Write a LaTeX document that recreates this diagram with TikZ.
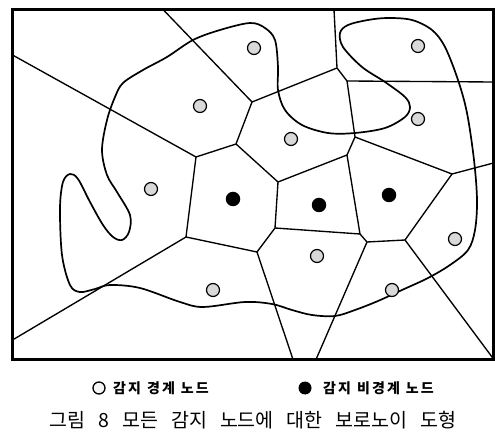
\documentclass[tikz,border=0pt]{standalone}
\usepackage{fontspec}
\newfontfamily\kr{Noto Sans CJK KR}
\newcommand\mylegendfont{\kr\bfseries\fontsize{14}{15}\selectfont\addfontfeature{LetterSpace=15}\spaceskip=6pt\relax}
\newcommand\mycaptionfont{\kr\fontsize{19.5}{22}\selectfont\spaceskip=13pt\relax}
\begin{document}
\begin{tikzpicture}[x=1pt,y=-1pt,
  frame/.style={line width=2.4pt},
  vor/.style={line width=1.35pt, line join=round},
  region/.style={line width=1.7pt},
  bnode/.style={circle, draw, line width=1.2pt, fill=gray!30, minimum size=13pt, inner sep=0pt},
  inode/.style={circle, fill=black, minimum size=14.5pt, inner sep=0pt},
  lbnode/.style={circle, draw, line width=1.3pt, fill=gray!8, minimum size=12pt, inner sep=0pt},
  linode/.style={circle, fill=black, minimum size=13pt, inner sep=0pt},
  legend/.style={anchor=west, inner sep=0pt, font=\mylegendfont},
  caption/.style={inner sep=0pt, font=\mycaptionfont}
]
\useasboundingbox (0,0) rectangle (495,435);
% frame
\draw[frame] (12.5,9.5) rectangle (493.5,359.5);
% Voronoi vertices
\coordinate (A) at (196,157);
\coordinate (B) at (252,102);
\coordinate (C) at (236,144);
\coordinate (D) at (186,237);
\coordinate (E) at (257,252);
\coordinate (F) at (278,182);
\coordinate (G) at (275,228);
\coordinate (H) at (367,242);
\coordinate (I) at (405,240);
\coordinate (J) at (360,234);
\coordinate (K) at (347,155);
\coordinate (L) at (452,174);
\coordinate (M) at (355,137);
\coordinate (N) at (347,81);
\coordinate (O) at (337,68);
% frame end points
\coordinate (fL1) at (12.5,55);
\coordinate (fT1) at (163,9.5);
\coordinate (fT2) at (334,9.5);
\coordinate (fR1) at (493.5,82);
\coordinate (fR2) at (493.5,163);
\coordinate (fBR) at (493.5,359);
\coordinate (fB1) at (316,359.5);
\coordinate (fB2) at (293,359.5);
\coordinate (fL2) at (12.5,340);
% Voronoi edges
\draw[vor] (fL1) -- (A) -- (C) -- (B) -- (fT1);
\draw[vor] (B) -- (O) -- (fT2);
\draw[vor] (O) -- (N) -- (fR1);
\draw[vor] (N) -- (M) -- (K);
\draw[vor] (M) -- (L) -- (fR2);
\draw[vor] (L) -- (I) -- (fBR);
\draw[vor] (I) -- (H) -- (J) -- (K) -- (F) -- (C);
\draw[vor] (H) -- (fB1);
\draw[vor] (J) -- (G) -- (F);
\draw[vor] (G) -- (E) -- (D) -- (A);
\draw[vor] (E) -- (fB2);
\draw[vor] (D) -- (fL2);
% sensing region boundary
\draw[region] plot[smooth cycle, tension=0.55] coordinates {
 (250,23) (265,28) (275,40) (278,67) (278,90) (285,110) (302,125) (328,133)
 (355,133) (385,128) (405,117) (410,107) (405,97) (385,82) (362,67) (343,47)
 (340,33) (348,25) (368,20) (388,18) (412,20) (432,30) (445,47) (458,80)
 (467,113) (474,160) (477,200) (475,230) (468,250) (450,265) (428,278)
 (402,290) (378,301) (355,310) (335,316) (312,315) (292,310) (272,304)
 (245,302) (203,307) (180,302) (140,288) (110,285) (95,289) (80,292)
 (70,285) (62,255) (60,208) (63,182) (70,174) (78,179) (90,202) (103,225)
 (113,237) (122,240) (129,232) (130,215) (117,192) (107,175) (102,150)
 (107,120) (115,97) (123,83) (143,70) (167,57) (193,40) (220,30)};
% boundary sensor nodes
\node[bnode] (b1) at (200,106) {};
\node[bnode] (b2) at (254,48) {};
\node[bnode] (b3) at (418,46) {};
\node[bnode] (b4) at (418,119) {};
\node[bnode] (b5) at (291,139) {};
\node[bnode] (b6) at (151,189) {};
\node[bnode] (b7) at (455,239) {};
\node[bnode] (b8) at (317,256) {};
\node[bnode] (b9) at (392,290) {};
\node[bnode] (b10) at (213,290) {};
% inner sensor nodes
\node[inode] (i1) at (233,199) {};
\node[inode] (i2) at (319,205) {};
\node[inode] (i3) at (389,195) {};
% legend
\node[lbnode] (lb) at (99,388) {};
\node[legend] (lbt) at (113,388) {감지 경계 노드};
\node[linode] (li) at (305,388) {};
\node[legend] (lit) at (323,388) {감지 비경계 노드};
% caption
\node[caption] (cap) at (253,420) {그림 8 모든 감지 노드에 대한 보로노이 도형};
\end{tikzpicture}
\end{document}
